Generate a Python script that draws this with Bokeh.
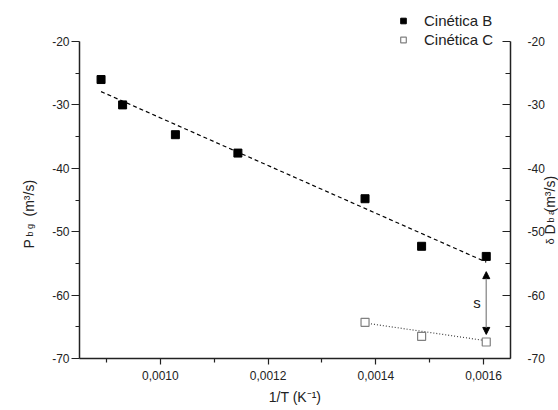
import math
from bokeh.plotting import figure
from bokeh.models import (LinearAxis, FixedTicker, CustomJSTickFormatter, Range1d,
                          Label, Arrow, NormalHead, Legend, LegendItem)
from bokeh.embed import file_html
from bokeh.resources import INLINE

# ---- data ----
inv_t_b = [0.00089, 0.00093, 0.001028, 0.001144, 0.00138, 0.001485, 0.001605]
val_b = [-26.0, -30.0, -34.7, -37.6, -44.8, -52.3, -53.9]
inv_t_c = [0.00138, 0.001485, 0.001605]
val_c = [-64.3, -66.5, -67.4]
fit_b_x = [0.00089, 0.001605]
fit_b_y = [-27.9, -54.8]
fit_c_x = [0.00138, 0.001605]
fit_c_y = [-64.4, -67.2]
arrow_x = 0.001605
arrow_y = [-56.3, -66.2]
s_pos = (0.001588, -61.1)
x_ticks = [0.0010, 0.0012, 0.0014, 0.0016]
x_minor = [0.0009, 0.0011, 0.0013, 0.0015]
y_ticks = [-70, -60, -50, -40, -30, -20]
y_minor = [-65, -55, -45, -35, -25]
x_lo, x_hi = 0.00085, 0.00165
y_lo, y_hi = -70, -20

FONT = "Liberation Sans"
W, H = 558, 410
# pixel box of the axes inside the canvas
FL, FR, FT, FB = 79, 510, 41, 358
sx = (FR - FL) / (x_hi - x_lo)
sy = (FB - FT) / (y_hi - y_lo)
xr = Range1d(x_lo - FL / sx, x_hi + (W - FR) / sx)
yr = Range1d(y_lo - (H - FB) / sy, y_hi + FT / sy)

p = figure(width=W, height=H, output_backend="svg", toolbar_location=None,
           x_range=xr, y_range=yr, x_axis_location=None, y_axis_location=None,
           min_border=0)
p.outline_line_color = None
p.xgrid.visible = False
p.ygrid.visible = False
p.background_fill_color = "white"

yfmt = CustomJSTickFormatter(code="return tick.toFixed(0);")
xfmt = CustomJSTickFormatter(code="return tick.toFixed(4).replace('.', ',');")

def style(ax):
    ax.axis_line_width = 1.5
    ax.axis_line_color = "#222222"
    ax.major_tick_line_color = "#222222"
    ax.minor_tick_line_color = "#222222"
    ax.major_tick_line_width = 1.2
    ax.minor_tick_line_width = 1.2
    ax.major_label_text_font = FONT
    ax.major_label_text_font_size = "12px"
    ax.major_label_text_color = "#222222"

xa = LinearAxis(ticker=FixedTicker(ticks=x_ticks, minor_ticks=x_minor), formatter=xfmt,
                fixed_location=y_lo, bounds=(x_lo, x_hi))
style(xa)
xa.major_tick_out = 6
xa.major_tick_in = 0
xa.minor_tick_out = 4
xa.minor_tick_in = 0
xa.major_label_standoff = 6
xa.axis_label = "1/T (K⁻¹)"
xa.axis_label_text_font = FONT
xa.axis_label_text_font_size = "14px"
xa.axis_label_text_font_style = "normal"
xa.axis_label_standoff = 6
xa.axis_label_text_color = "#222222"
p.add_layout(xa, "below")

ya = LinearAxis(ticker=FixedTicker(ticks=y_ticks, minor_ticks=y_minor), formatter=yfmt,
                fixed_location=x_lo, bounds=(y_lo, y_hi))
style(ya)
ya.major_tick_out = 8
ya.major_tick_in = 0
ya.minor_tick_out = 4
ya.minor_tick_in = 0
ya.major_label_standoff = 2
p.add_layout(ya, "left")

ra = LinearAxis(ticker=FixedTicker(ticks=y_ticks, minor_ticks=y_minor), formatter=yfmt,
                fixed_location=x_hi, bounds=(y_lo, y_hi))
style(ra)
ra.major_tick_out = 0
ra.major_tick_in = 8
ra.minor_tick_out = 0
ra.minor_tick_in = 5
ra.major_label_standoff = 17
p.add_layout(ra, "right")

# fit lines
p.line(fit_b_x, fit_b_y, line_color="black", line_width=1.2, line_dash="4 3")
p.line(fit_c_x, fit_c_y, line_color="#404040", line_width=1.2, line_dash="1 2")

rb = p.scatter(inv_t_b, val_b, marker="square", size=8, fill_color="black", line_color="black")
rc = p.scatter(inv_t_c, val_c, marker="square", size=8, fill_color="white", line_color="#808080", line_width=1.2)

# arrow
p.add_layout(Arrow(x_start=arrow_x, y_start=arrow_y[0], x_end=arrow_x, y_end=arrow_y[1],
                   line_color="#999999", line_width=1.5,
                   start=NormalHead(size=7, fill_color="black", line_color="black"),
                   end=NormalHead(size=7, fill_color="black", line_color="black")))
p.add_layout(Label(x=s_pos[0], y=s_pos[1], text="s", text_font=FONT, text_font_size="15px",
                   text_align="center", text_baseline="middle", text_color="#222222"))

# legend
legend = Legend(items=[LegendItem(label="Cinética B", renderers=[rb]),
                       LegendItem(label="Cinética C", renderers=[rc])],
                location=(396, H - 49))
legend.label_text_font = FONT
legend.label_text_font_size = "15px"
legend.label_text_color = "#222222"
legend.glyph_width = 14
legend.glyph_height = 19
legend.label_height = 19
legend.label_standoff = 14
legend.spacing = 0
legend.padding = 0
legend.margin = 0
legend.border_line_color = None
legend.background_fill_alpha = 0
p.add_layout(legend, "center")

# y-axis titles as rotated text pieces (screen px, y measured from the bottom)
A = math.pi / 2
def piece(x, y_top, text, size):
    p.add_layout(Label(x=x, y=H - y_top, x_units="screen", y_units="screen", text=text, angle=A,
                       text_font=FONT, text_font_size=size, text_align="left",
                       text_baseline="alphabetic", text_color="#222222"))

piece(28, 248, "P", "14px")
piece(29, 236, "b g", "9px")
piece(28, 216, "(m³/s)", "14px")

piece(549, 244, "δ", "11px")
piece(549, 234, "D", "14px")
piece(550, 222, "b a", "9px")
piece(549, 212, "(m³/s)", "14px")

open("out.html", "w").write(file_html(p, INLINE))
